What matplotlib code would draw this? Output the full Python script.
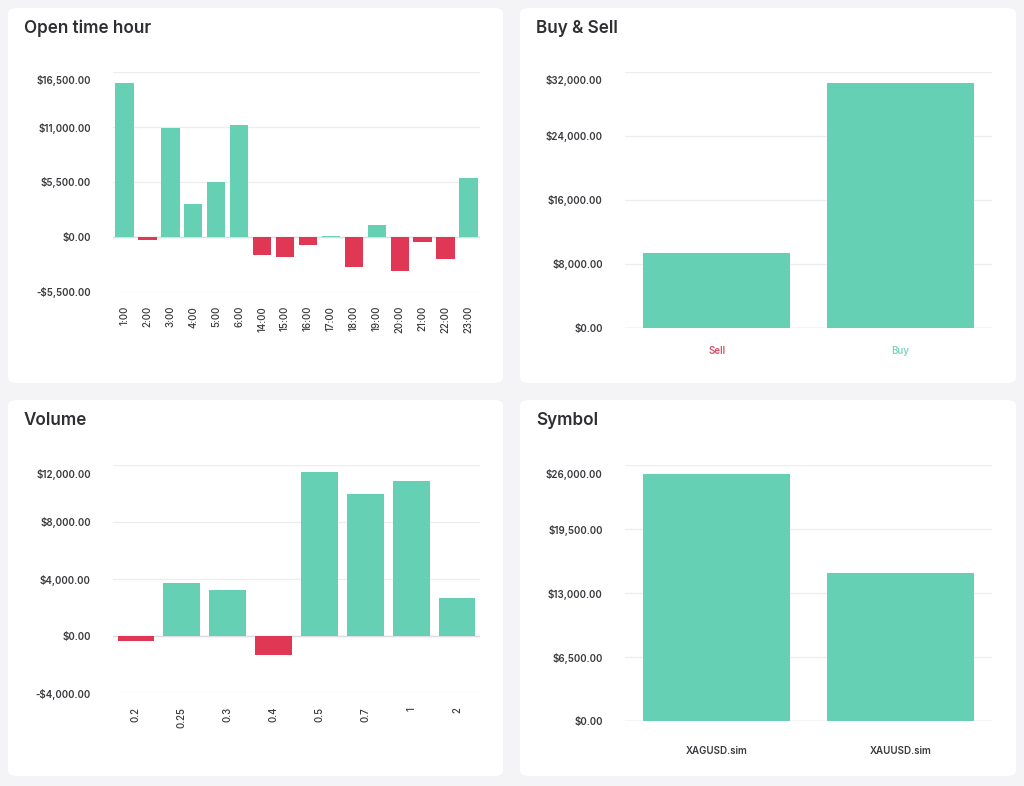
import matplotlib
matplotlib.use("Agg")
import matplotlib.pyplot as plt
from matplotlib.patches import FancyBboxPatch
from matplotlib.ticker import FuncFormatter
from matplotlib.transforms import ScaledTranslation

plt.rcParams["font.family"] = ["Inter", "DejaVu Sans"]

GREEN = "#66d0b4"
RED = "#e03854"
BG = "#f4f3f6"
GRID = "#ededf1"
TEXT = "#3a3a3f"

hours = ["1:00", "2:00", "3:00", "4:00", "5:00", "6:00", "14:00", "15:00",
         "16:00", "17:00", "18:00", "19:00", "20:00", "21:00", "22:00", "23:00"]
hour_profit = [15430, -270, 10940, 3290, 5520, 11210, -1770, -2030,
               -840, 100, -2990, 1200, -3360, -500, -2200, 5920]

sides = ["Sell", "Buy"]
side_profit = [9420, 30630]

volumes = ["0.2", "0.25", "0.3", "0.4", "0.5", "0.7", "1", "2"]
volume_profit = [-350, 3700, 3200, -1360, 11530, 9990, 10880, 2670]

symbols = ["XAGUSD.sim", "XAUUSD.sim"]
symbol_profit = [25090, 15080]


def money(v, pos=None):
    s = "${:,.2f}".format(abs(v))
    return "-" + s if v < 0 else s


fig = plt.figure(figsize=(10.24, 7.86), dpi=100)
fig.patch.set_facecolor(BG)

W, H = 1024.0, 786.0

# white cards
for (x0, y0, x1, y1) in [(8, 8, 503, 383), (520, 8, 1016, 383),
                         (8, 400, 503, 776), (520, 400, 1016, 776)]:
    card = FancyBboxPatch((x0 / W, 1 - y1 / H), (x1 - x0) / W, (y1 - y0) / H,
                          boxstyle="round,pad=0,rounding_size=0.008",
                          transform=fig.transFigure, facecolor="white",
                          edgecolor="none", zorder=-10)
    fig.patches.append(card)


def panel(rect, title, title_xy, cats, vals, ylim, step, rotate, label_colors=None):
    l, t, r, b = rect
    ax = fig.add_axes([l / W, 1 - b / H, (r - l) / W, (b - t) / H])
    ax.set_facecolor("none")
    colors = [GREEN if v >= 0 else RED for v in vals]
    x = range(len(cats))
    ax.bar(x, vals, width=0.8, color=colors, linewidth=0, zorder=3)
    ax.set_xlim(-0.5, len(cats) - 0.5)
    ax.set_ylim(*ylim)
    ticks = []
    v = ylim[0]
    while v <= ylim[1] + 1e-6:
        ticks.append(v)
        v += step
    ax.set_yticks(ticks)
    ax.yaxis.set_major_formatter(FuncFormatter(money))
    ax.grid(axis="y", color=GRID, linewidth=0.9, zorder=0)
    ax.axhline(0, color="#dcdce2", linewidth=1.0, zorder=2)
    for s in ax.spines.values():
        s.set_visible(False)
    ax.tick_params(axis="both", length=0, labelsize=7, labelcolor=TEXT)
    ax.tick_params(axis="y", pad=16)
    ax.set_xticks(list(x))
    if rotate:
        ax.set_xticklabels(cats, rotation=90, fontsize=7, fontweight="medium")
        ax.tick_params(axis="x", pad=10)
    else:
        ax.set_xticklabels(cats, fontsize=7, fontweight="semibold")
        ax.tick_params(axis="x", pad=13 if label_colors else 18)
    for lab in ax.get_yticklabels():
        lab.set_fontweight("semibold")
    top = ax.get_yticklabels()[-1]
    top.set_transform(top.get_transform()
                      + ScaledTranslation(0, -8 / 100, fig.dpi_scale_trans))
    if label_colors:
        for lab, c in zip(ax.get_xticklabels(), label_colors):
            lab.set_color(c)
    fig.text(title_xy[0] / W, 1 - title_xy[1] / H, title, fontsize=12.3,
             fontweight="semibold", color="#2f2f33", va="baseline")
    return ax


panel((113, 72, 480, 292), "Open time hour", (24, 33), hours, hour_profit,
      (-5500, 16500), 5500, True)
panel((625, 72, 992, 328), "Buy & Sell", (536, 33), sides, side_profit,
      (0, 32000), 8000, False, label_colors=["#d9516a", "#7fd6bf"])
panel((113, 465, 480, 693), "Volume", (24, 425), volumes, volume_profit,
      (-4000, 12000), 4000, True)
panel((625, 465, 992, 721), "Symbol", (536, 425), symbols, symbol_profit,
      (0, 26000), 6500, False)

fig.savefig("out.png", dpi=100, facecolor=BG)
